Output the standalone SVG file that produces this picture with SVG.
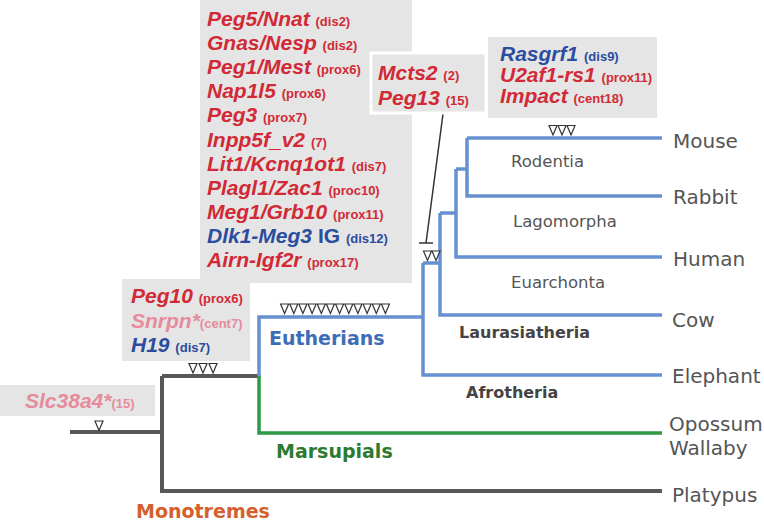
<svg xmlns="http://www.w3.org/2000/svg" xmlns:xlink="http://www.w3.org/1999/xlink" width="764" height="522" viewBox="0 0 764 522">
<style>
.box{fill:#e5e5e5}
.g{font-family:"Liberation Sans",Arial,sans-serif;font-weight:bold;font-style:italic;font-size:21px}
.s{font-style:normal;font-size:13px}
.r{fill:#d12a36}
.b{fill:#2b4da0}
.p{fill:#e58b9c}
.sp{font-family:"DejaVu Sans",sans-serif;font-size:20px;fill:#555}
.cl{font-family:"DejaVu Sans",sans-serif;font-size:16.5px;fill:#555}
.bc{font-family:"DejaVu Sans",sans-serif;font-size:16px;font-weight:bold;fill:#444}
.big{font-family:"DejaVu Sans",sans-serif;font-size:19px;font-weight:bold}
.dk{fill:none;stroke:#575757;stroke-width:4}
.bl{fill:none;stroke:#6690d0;stroke-width:3.5}
.gr{fill:none;stroke:#2e9a48;stroke-width:3.5}
.tri{fill:#fff;stroke:#333;stroke-width:1.2}
</style>
<defs>
<path id="t" class="tri" d="M-4,0 L4,0 L0,9.5 Z"/>
</defs>

<g id="connectors">
<path class="dk" d="M70,432 H162"/>
<path class="dk" d="M162,376 V491 H662"/>
<path class="dk" d="M162,376 H259"/>
<path class="gr" d="M259,376 V433 H662"/>
<path class="bl" d="M259,376 V317 H423"/>
<path class="bl" d="M423,263 V375 H662"/>
<path class="bl" d="M423,263 H440"/>
<path class="bl" d="M440,213 V315 H662"/>
<path class="bl" d="M440,213 H456"/>
<path class="bl" d="M456,169 V257 H662"/>
<path class="bl" d="M456,169 H467"/>
<path class="bl" d="M467,138 V196 H662"/>
<path class="bl" d="M467,138 H662"/>
<path fill="none" stroke="#333" stroke-width="1.5" d="M443,114 L426,243 M419,243 H433"/>
</g>

<g id="marks">
<use xlink:href="#t" x="99" y="421"/>
<use xlink:href="#t" x="193" y="363.5"/>
<use xlink:href="#t" x="203" y="363.5"/>
<use xlink:href="#t" x="213" y="363.5"/>
<use xlink:href="#t" x="284.6" y="304"/>
<use xlink:href="#t" x="293.8" y="304"/>
<use xlink:href="#t" x="302.9" y="304"/>
<use xlink:href="#t" x="312.1" y="304"/>
<use xlink:href="#t" x="321.3" y="304"/>
<use xlink:href="#t" x="330.4" y="304"/>
<use xlink:href="#t" x="339.6" y="304"/>
<use xlink:href="#t" x="348.8" y="304"/>
<use xlink:href="#t" x="357.9" y="304"/>
<use xlink:href="#t" x="367.1" y="304"/>
<use xlink:href="#t" x="376.3" y="304"/>
<use xlink:href="#t" x="385.4" y="304"/>
<use xlink:href="#t" x="427.5" y="251"/>
<use xlink:href="#t" x="436" y="251"/>
<use xlink:href="#t" x="553" y="125.5"/>
<use xlink:href="#t" x="562" y="125.5"/>
<use xlink:href="#t" x="571" y="125.5"/>
</g>

<g id="box-eutherian">
<rect class="box" x="200" y="0" width="212" height="283"/>
<text class="g r" x="207" y="26">Peg5/Nnat <tspan class="s">(dis2)</tspan></text>
<text class="g r" x="207" y="50.1">Gnas/Nesp <tspan class="s">(dis2)</tspan></text>
<text class="g r" x="207" y="74.2">Peg1/Mest <tspan class="s">(prox6)</tspan></text>
<text class="g r" x="207" y="98.3">Nap1l5 <tspan class="s">(prox6)</tspan></text>
<text class="g r" x="207" y="122.4">Peg3 <tspan class="s">(prox7)</tspan></text>
<text class="g r" x="207" y="146.5">Inpp5f_v2 <tspan class="s">(7)</tspan></text>
<text class="g r" x="207" y="170.6">Lit1/Kcnq1ot1 <tspan class="s">(dis7)</tspan></text>
<text class="g r" x="207" y="194.7">Plagl1/Zac1 <tspan class="s">(proc10)</tspan></text>
<text class="g r" x="207" y="218.8">Meg1/Grb10 <tspan class="s">(prox11)</tspan></text>
<text class="g b" x="207" y="242.9">Dlk1-Meg3 <tspan font-style="normal">IG</tspan> <tspan class="s">(dis12)</tspan></text>
<text class="g r" x="207" y="267">Airn-Igf2r <tspan class="s">(prox17)</tspan></text>
</g>

<g id="box-euarchontoglires">
<rect class="box" x="371" y="53" width="115" height="60" stroke="#fff" stroke-width="3"/>
<text class="g r" x="378" y="80">Mcts2 <tspan class="s">(2)</tspan></text>
<text class="g r" x="378" y="105">Peg13 <tspan class="s">(15)</tspan></text>
</g>

<g id="box-rodent">
<rect class="box" x="488" y="37" width="169" height="81"/>
<text class="g b" x="500" y="60.5" font-size="18">Rasgrf1 <tspan class="s">(dis9)</tspan></text>
<text class="g r" x="500" y="81.5" font-size="18">U2af1-rs1 <tspan class="s">(prox11)</tspan></text>
<text class="g r" x="500" y="102.5" font-size="18">Impact <tspan class="s">(cent18)</tspan></text>
</g>

<g id="box-therian">
<rect class="box" x="122" y="279" width="128" height="82"/>
<text class="g r" x="131" y="303">Peg10 <tspan class="s">(prox6)</tspan></text>
<text class="g p" x="131" y="328">Snrpn*<tspan class="s">(cent7)</tspan></text>
<text class="g b" x="131" y="352">H19 <tspan class="s">(dis7)</tspan></text>
</g>

<g id="box-root">
<rect class="box" x="0" y="385" width="155" height="31"/>
<text class="g p" x="25" y="408">Slc38a4*<tspan class="s">(15)</tspan></text>
</g>

<g id="species">
<text class="sp" x="673" y="148">Mouse</text>
<text class="sp" x="673" y="204">Rabbit</text>
<text class="sp" x="673" y="266">Human</text>
<text class="sp" x="672" y="327">Cow</text>
<text class="sp" x="672" y="383">Elephant</text>
<text class="sp" x="669" y="431">Opossum</text>
<text class="sp" x="669" y="455">Wallaby</text>
<text class="sp" x="672" y="502">Platypus</text>
</g>

<g id="clades">
<text class="cl" x="511" y="167">Rodentia</text>
<text class="cl" x="513" y="227">Lagomorpha</text>
<text class="cl" x="511" y="288">Euarchonta</text>
<text class="bc" x="459" y="338">Laurasiatheria</text>
<text class="bc" x="466" y="398">Afrotheria</text>
<text class="big" x="269" y="345" fill="#3e6db8">Eutherians</text>
<text class="big" x="276" y="458" fill="#2d7a32">Marsupials</text>
<text class="big" x="136" y="518" fill="#d4602c">Monotremes</text>
</g>
</svg>
